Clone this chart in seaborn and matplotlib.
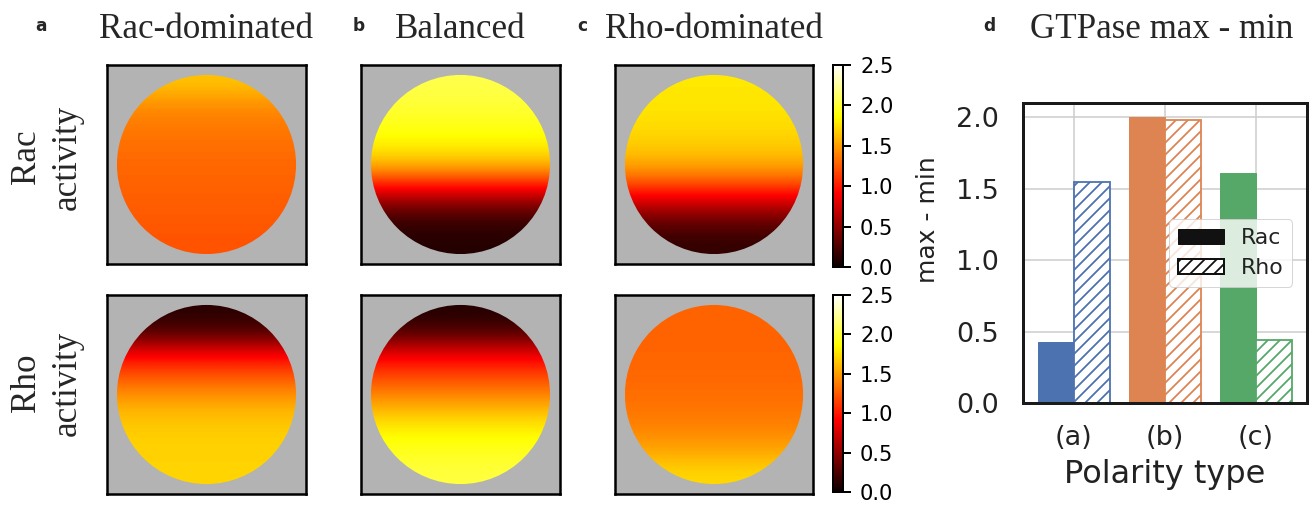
import numpy as np
import pandas as pd
import matplotlib
matplotlib.use("Agg")
import matplotlib.pyplot as plt
from matplotlib.patches import Circle, Patch
from matplotlib.colors import Normalize
from matplotlib.cm import ScalarMappable
import seaborn as sns


# Activity profiles across the cell, top edge -> bottom edge (values 0..2.5)
rac_dominated_rac = [1.64, 1.45, 1.37, 1.33, 1.30, 1.28, 1.26, 1.24, 1.22]
rac_dominated_rho = [0.12, 0.3, 0.9, 1.2, 1.45, 1.62, 1.68, 1.70, 1.70]
balanced_rac = [2.05, 2.0, 1.93, 1.82, 1.6, 1.05, 0.45, 0.15, 0.1]
balanced_rho = [0.1, 0.3, 0.85, 1.15, 1.4, 1.65, 1.85, 1.95, 2.02]
rho_dominated_rac = [1.78, 1.77, 1.74, 1.68, 1.55, 1.2, 0.7, 0.3, 0.15]
rho_dominated_rho = [1.28, 1.28, 1.29, 1.30, 1.32, 1.36, 1.43, 1.56, 1.72]

panel_titles = ["Rac-dominated", "Balanced", "Rho-dominated"]
panel_letters = ["a", "b", "c"]
row_labels = ["Rac\nactivity", "Rho\nactivity"]
cbar_ticks = [0.0, 0.5, 1.0, 1.5, 2.0, 2.5]

# Bar chart (d)
polarity = ["(a)", "(b)", "(c)"]
rac_range = [0.43, 2.00, 1.61]
rho_range = [1.55, 1.98, 0.44]

W, H = 1309, 506
sns.set_theme(style="whitegrid")
plt.rcParams["font.family"] = ["DejaVu Sans"]
plt.rcParams["hatch.linewidth"] = 1.8

fig = plt.figure(figsize=(W / 72, H / 72), dpi=72)


def px_axes(x0, y0, x1, y1):
    return fig.add_axes([x0 / W, 1 - y1 / H, (x1 - x0) / W, (y1 - y0) / H])


profiles = [[rac_dominated_rac, balanced_rac, rho_dominated_rac],
            [rac_dominated_rho, balanced_rho, rho_dominated_rho]]
col_x = [(107, 306), (361, 560), (615, 813)]
row_y = [(65, 264), (295, 494)]
norm = Normalize(vmin=0, vmax=2.5)

for r in range(2):
    for c in range(3):
        ax = px_axes(col_x[c][0], row_y[r][0], col_x[c][1], row_y[r][1])
        ax.set_facecolor("#b3b3b3")
        ax.grid(False)
        vals = np.array(profiles[r][c]).reshape(-1, 1)
        im = ax.imshow(vals, cmap="hot", norm=norm, extent=(-0.9, 0.9, -0.9, 0.9),
                       interpolation="bicubic", aspect="auto", origin="upper")
        disc = Circle((0, 0), 0.9, transform=ax.transData)
        im.set_clip_path(disc)
        ax.set_xlim(-1, 1)
        ax.set_ylim(-1, 1)
        ax.set_xticks([])
        ax.set_yticks([])
        for s in ax.spines.values():
            s.set_color("black")
            s.set_linewidth(2.5)

# column titles and letters
for c in range(3):
    cx = (col_x[c][0] + col_x[c][1]) / 2
    fig.text(cx / W, 1 - 38 / H, panel_titles[c], ha="center", va="baseline",
             fontsize=35, family="Liberation Serif")
letter_x = [41, 359, 582]
for c in range(3):
    fig.text(letter_x[c] / W, 1 - 31 / H, panel_letters[c], ha="center", va="baseline",
             fontsize=17, fontweight="bold")

# row labels
for r, yc in enumerate([157, 383]):
    fig.text(47 / W, 1 - yc / H, row_labels[r], rotation=90, ha="center", va="center",
             fontsize=35, family="Liberation Serif", linespacing=1.3, multialignment="center")

# colorbars
for (y0, y1) in [(65, 267), (295, 492)]:
    cax = px_axes(833, y0, 843, y1)
    cb = fig.colorbar(ScalarMappable(norm=norm, cmap="hot"), cax=cax, ticks=cbar_ticks)
    cb.outline.set_linewidth(2)
    cb.outline.set_edgecolor("black")
    cax.tick_params(labelsize=21, length=8, width=2, pad=9, colors="black")
    cax.set_yticklabels([f"{t:.1f}" for t in cbar_ticks])
fig.text(928 / W, 1 - 220 / H, "max - min", rotation=90, ha="center", va="center",
         fontsize=25, color="#222222")

# bar chart
df = pd.DataFrame({
    "polarity": polarity * 2,
    "value": rac_range + rho_range,
    "gtpase": ["Rac"] * 3 + ["Rho"] * 3,
})
colors = sns.color_palette("deep", 3)

axd = px_axes(1023, 103, 1307, 403)
sns.barplot(data=df, x="polarity", y="value", hue="gtpase", ax=axd,
            width=0.8, saturation=1, legend=False, errorbar=None)
for i, bar in enumerate(axd.containers[0]):
    bar.set_facecolor(colors[i])
    bar.set_edgecolor(colors[i])
for i, bar in enumerate(axd.containers[1]):
    bar.set_facecolor("white")
    bar.set_edgecolor(colors[i])
    bar.set_linewidth(1.8)
    bar.set_hatch("//")

axd.set_ylim(0, 2.1)
axd.set_xlim(-0.56, 2.56)
axd.set_yticks([0, 0.5, 1.0, 1.5, 2.0])
axd.set_yticklabels(["0.0", "0.5", "1.0", "1.5", "2.0"])
axd.grid(True, color="#cccccc", linewidth=1.5)
axd.set_axisbelow(True)
axd.tick_params(axis="y", labelsize=27, length=0, pad=24, colors="#222222")
axd.tick_params(axis="x", labelsize=27, length=0, pad=22, colors="#222222")
axd.set_xlabel("Polarity type", fontsize=32, labelpad=8, color="#222222")
axd.set_ylabel("")
for s in axd.spines.values():
    s.set_color("#1a1a1a")
    s.set_linewidth(3)

handles = [Patch(facecolor="#111111", edgecolor="#111111", label="Rac"),
           Patch(facecolor="white", edgecolor="#111111", hatch="//", linewidth=2, label="Rho")]
axd.legend(handles=handles, loc="center right", bbox_to_anchor=(0.947, 0.5),
           borderaxespad=0, fontsize=22, framealpha=0.8, handlelength=2.1,
           handleheight=0.7, borderpad=0.4, labelspacing=0.45, handletextpad=0.75,
           labelcolor="#222222")

fig.text(1162 / W, 1 - 38 / H, "GTPase max - min", ha="center", va="baseline",
         fontsize=35, family="Liberation Serif")
fig.text(989 / W, 1 - 31 / H, "d", ha="center", va="baseline",
         fontsize=17, fontweight="bold")

fig.savefig("out.png", dpi=72)
